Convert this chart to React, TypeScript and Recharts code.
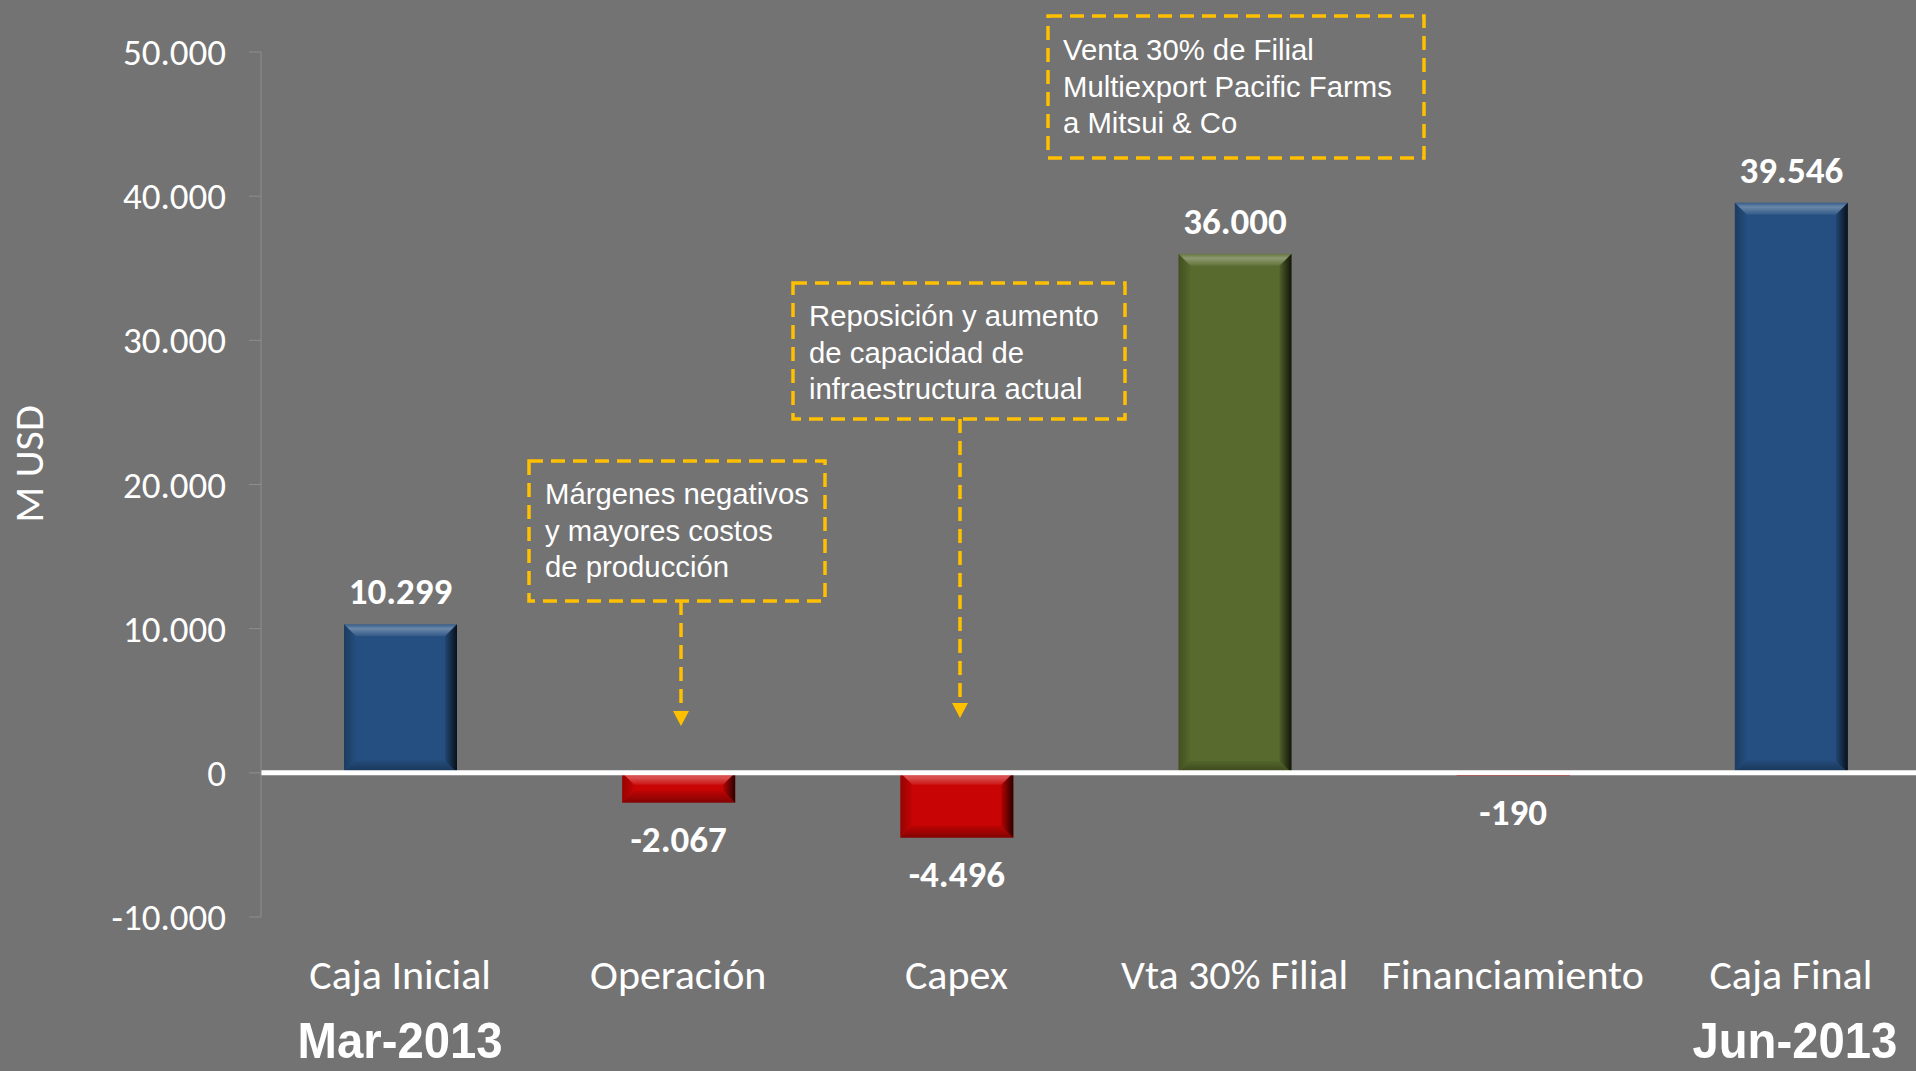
import { BarChart, Bar, XAxis, YAxis, ReferenceLine, LabelList, Cell } from "recharts";

const categories = ["Caja Inicial", "Operación", "Capex", "Vta 30% Filial", "Financiamiento", "Caja Final"];
const values = [10299, -2067, -4496, 36000, -190, 39546];
const barColors = ["#254f80", "#c80404", "#c80404", "#586a2d", "#c80404", "#254f80"];
const periodLabels = ["Mar-2013", "", "", "", "", "Jun-2013"];
const yTicks = [-10000, 0, 10000, 20000, 30000, 40000, 50000];

const data = categories.map((name, i) => ({ name, value: values[i], period: periodLabels[i] }));

const CAL = "Carlito, Calibri, Lato, sans-serif";
const ARIAL = "'Liberation Sans', Arial, sans-serif";

function fmt(v: number) {
  const s = Math.abs(Math.round(v)).toString().replace(/\B(?=(\d{3})+(?!\d))/g, ".");
  return (v < 0 ? "-" : "") + s;
}

function BevelBar(props: any) {
  const { x, y, width, height, fill } = props;
  const top = Math.min(y, y + height);
  const h = Math.abs(height);
  const w = width;
  if (!h || h <= 0) return null;
  const b = Math.min(12, h / 2, w / 2);
  const r = x + w;
  const bot = top + h;
  return (
    <g>
      <rect x={x} y={top} width={w} height={h} fill={fill} />
      <polygon points={`${x},${top} ${r},${top} ${r - b},${top + b} ${x + b},${top + b}`} fill="url(#bevTop)" />
      <polygon points={`${x},${bot} ${r},${bot} ${r - b},${bot - b} ${x + b},${bot - b}`} fill="url(#bevBottom)" />
      <polygon points={`${x},${top} ${x + b},${top + b} ${x + b},${bot - b} ${x},${bot}`} fill="url(#bevLeft)" />
      <polygon points={`${r},${top} ${r},${bot} ${r - b},${bot - b} ${r - b},${top + b}`} fill="url(#bevRight)" />
    </g>
  );
}

function ValueLabel(props: any) {
  const { x, y, width, height, value } = props;
  const top = Math.min(y, y + height);
  const bot = Math.max(y, y + height);
  const cx = x + width / 2;
  const ty = value >= 0 ? top - 20 : bot + 49;
  return (
    <text x={cx} y={ty} textAnchor="middle" fill="#ffffff" fontFamily={CAL} fontWeight={700} fontSize={37}>
      {fmt(value)}
    </text>
  );
}

function YTick(props: any) {
  const { x, y, payload } = props;
  return (
    <text x={x} y={y + 13} textAnchor="end" fill="#ffffff" fontFamily={CAL} fontSize={37}>
      {fmt(payload.value)}
    </text>
  );
}

function XTick(props: any) {
  const { x, y, payload, index } = props;
  const period = periodLabels[index];
  const last = index === categories.length - 1;
  return (
    <g>
      <text x={x} y={y + 72} textAnchor="middle" fill="#ffffff" fontFamily={CAL} fontSize={42}>
        {payload.value}
      </text>
      {period ? (
        <text
          x={x}
          dx={last ? 4 : 0}
          y={y + 141}
          textAnchor="middle"
          fill="#ffffff"
          fontFamily="'Liberation Sans Narrow', 'Arial Narrow', 'Liberation Sans', Arial, sans-serif"
          fontWeight={700}
          fontSize={50}
          textLength={205}
          lengthAdjust="spacingAndGlyphs"
        >
          {period}
        </text>
      ) : null}
    </g>
  );
}

const notes = [
  { box: [529, 461, 296, 140], lines: ["Márgenes negativos", "y mayores costos", "de producción"], tx: 545, ty: 504, arrow: [681, 601, 726] },
  { box: [793, 283, 332, 136], lines: ["Reposición y aumento", "de capacidad de", "infraestructura actual"], tx: 809, ty: 326, arrow: [960, 419, 718] },
  { box: [1048, 16, 376, 142], lines: ["Venta 30% de Filial", "Multiexport Pacific Farms", "a Mitsui & Co"], tx: 1063, ty: 60, arrow: null },
];

export default function App() {
  return (
    <div style={{ position: "absolute", left: 0, top: 0, width: 1916, height: 1071, overflow: "hidden", background: "#737373" }}>
      <svg width={0} height={0} style={{ position: "absolute" }}>
        <defs>
          <linearGradient id="bevTop" x1="0" y1="0" x2="0" y2="1">
            <stop offset="0" stopColor="#ffffff" stopOpacity={0.08} />
            <stop offset="0.35" stopColor="#ffffff" stopOpacity={0.32} />
            <stop offset="1" stopColor="#ffffff" stopOpacity={0.06} />
          </linearGradient>
          <linearGradient id="bevBottom" x1="0" y1="0" x2="0" y2="1">
            <stop offset="0" stopColor="#000000" stopOpacity={0.05} />
            <stop offset="1" stopColor="#000000" stopOpacity={0.35} />
          </linearGradient>
          <linearGradient id="bevLeft" x1="0" y1="0" x2="1" y2="0">
            <stop offset="0" stopColor="#000000" stopOpacity={0.25} />
            <stop offset="1" stopColor="#000000" stopOpacity={0.02} />
          </linearGradient>
          <linearGradient id="bevRight" x1="0" y1="0" x2="1" y2="0">
            <stop offset="0" stopColor="#000000" stopOpacity={0.1} />
            <stop offset="1" stopColor="#000000" stopOpacity={0.8} />
          </linearGradient>
        </defs>
      </svg>
      <BarChart width={1940} height={1071} data={data} margin={{ top: 52, right: 10, bottom: 0, left: 0 }}>
        <XAxis dataKey="name" axisLine={false} tickLine={false} tickSize={0} tickMargin={0} height={154} tick={<XTick />} interval={0} />
        <YAxis
          width={261}
          domain={[-10000, 50000]}
          ticks={yTicks}
          allowDataOverflow
          axisLine={{ stroke: "#8e8e8e", strokeWidth: 1 }}
          tickLine={{ stroke: "#8e8e8e", strokeWidth: 1 }}
          tickSize={12}
          tickMargin={23}
          tick={<YTick />}
        />
        <Bar dataKey="value" barSize={113} shape={<BevelBar />} isAnimationActive={false}>
          {data.map((d, i) => (
            <Cell key={d.name} fill={barColors[i]} />
          ))}
          <LabelList dataKey="value" content={<ValueLabel />} />
        </Bar>
        <ReferenceLine y={0} stroke="#ffffff" strokeWidth={5} />
      </BarChart>
      <svg width={1916} height={1071} style={{ position: "absolute", left: 0, top: 0, pointerEvents: "none" }}>
        <text
          transform="translate(43,464) rotate(-90)"
          textAnchor="middle"
          fill="#ffffff"
          fontFamily={CAL}
          fontSize={42}
        >
          M USD
        </text>
        {notes.map((n, i) => (
          <g key={i}>
            <rect x={n.box[0]} y={n.box[1]} width={n.box[2]} height={n.box[3]} fill="none" stroke="#ffc000" strokeWidth={3.5} strokeDasharray="14 8" />
            {n.lines.map((l, j) => (
              <text key={j} x={n.tx} y={n.ty + j * 36.5} fill="#ffffff" fontFamily={ARIAL} fontSize={29.3}>
                {l}
              </text>
            ))}
            {n.arrow ? (
              <g>
                <line x1={n.arrow[0]} y1={n.arrow[1]} x2={n.arrow[0]} y2={n.arrow[2] - 14} stroke="#ffc000" strokeWidth={3.5} strokeDasharray="14 8" />
                <polygon
                  points={`${n.arrow[0] - 8},${n.arrow[2] - 15} ${n.arrow[0] + 8},${n.arrow[2] - 15} ${n.arrow[0]},${n.arrow[2]}`}
                  fill="#ffc000"
                />
              </g>
            ) : null}
          </g>
        ))}
      </svg>
    </div>
  );
}
